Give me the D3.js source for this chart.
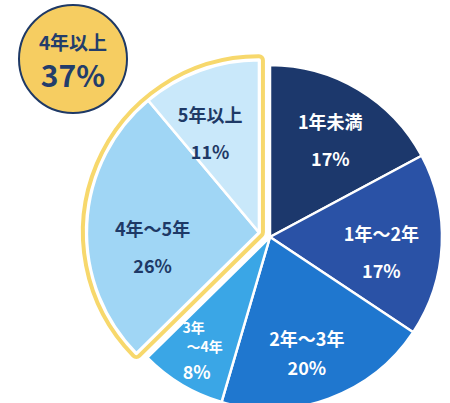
<!DOCTYPE html>
<html><head><meta charset="utf-8">
<script src="https://cdn.jsdelivr.net/npm/d3@7/dist/d3.min.js"></script>
<style>
html,body{margin:0;padding:0;background:#fff;}
svg{display:block;font-family:"Noto Sans CJK JP","Noto Sans",sans-serif;font-weight:700;}
</style></head>
<body>
<script>
// Data
const categories = ["1年未満", "1年～2年", "2年～3年", "3年～4年", "4年～5年", "5年以上"];
const values = [17, 17, 20, 8, 26, 11];
const labelLines = [["1年未満"], ["1年～2年"], ["2年～3年"], ["3年", "～4年"], ["4年～5年"], ["5年以上"]];
const highlightGroup = ["4年～5年", "5年以上"];
const badgeTitle = "4年以上";
const badgeValue = "37%";

// Styles / layout
const colors = ["#1c386c", "#2a52a6", "#1f77cf", "#3aa6e6", "#a0d6f5", "#c9e8fa"];
const textColors = ["#fff", "#fff", "#fff", "#fff", "#1e3966", "#1e3966"];
const labelNudge = [[2, 0], [-2, 9], [-2, 9], [-12, 14], [7, 20], [-10, 7]];

const W = 450, H = 403;
const cx = 270, cy = 237, R = 172;
const explode = 12;

const svg = d3.select("body").append("svg").attr("width", W).attr("height", H);

const pie = d3.pie().sort(null).value(d => d.v);
const data = categories.map((c, i) => ({c, v: values[i], i}));
const arcs = pie(data);
const arc = d3.arc().innerRadius(0).outerRadius(R);
const labelArc = d3.arc().innerRadius(R * 0.66).outerRadius(R * 0.66);

const grp = arcs.filter(a => highlightGroup.includes(a.data.c));
const gStart = d3.min(grp, a => a.startAngle), gEnd = d3.max(grp, a => a.endAngle);
const gMid = (gStart + gEnd) / 2;
const ox = Math.sin(gMid) * explode, oy = -Math.cos(gMid) * explode;

const g = svg.append("g").attr("transform", `translate(${cx},${cy})`);

// group outline (yellow frame)
const gg = g.append("g").attr("transform", `translate(${ox},${oy})`);
const groupPath = arc({startAngle: gStart, endAngle: gEnd});
gg.append("path").attr("d", groupPath).attr("fill", "none")
  .attr("stroke", "#f7d86c").attr("stroke-width", 12).attr("stroke-linejoin", "round");
gg.append("path").attr("d", groupPath).attr("fill", "#fff")
  .attr("stroke", "#fff").attr("stroke-width", 4).attr("stroke-linejoin", "round");

arcs.forEach((a, i) => {
  const inG = highlightGroup.includes(a.data.c);
  const parent = inG ? gg : g;
  parent.append("path").attr("d", arc(a)).attr("fill", colors[i])
    .attr("stroke", "#fff").attr("stroke-width", 2.5).attr("stroke-linejoin", "round");
});

arcs.forEach((a, i) => {
  const inG = highlightGroup.includes(a.data.c);
  const [x0, y0] = labelArc.centroid(a);
  const x = x0 + (inG ? ox : 0) + labelNudge[i][0];
  const y = y0 + (inG ? oy : 0) + labelNudge[i][1];
  const lines = labelLines[i];
  const small = lines.length > 1;
  const t = g.append("g").attr("fill", textColors[i]).attr("text-anchor", "middle");
  if (small) {
    t.append("text").attr("x", x - 6).attr("y", y - 21).attr("dominant-baseline", "central").attr("font-size", 14).text(lines[0]);
    t.append("text").attr("x", x + 5).attr("y", y - 2).attr("dominant-baseline", "central").attr("font-size", 14).text(lines[1]);
    t.append("text").attr("x", x - 3).attr("y", y + 23).attr("dominant-baseline", "central").attr("font-size", 18).text(values[i] + "%");
  } else {
    const gap = (i === 2) ? 29 : 37;
    t.append("text").attr("x", x).attr("y", y - gap / 2).attr("dominant-baseline", "central").attr("font-size", 18).text(lines[0]);
    t.append("text").attr("x", x).attr("y", y + gap / 2).attr("dominant-baseline", "central").attr("font-size", 18).text(values[i] + "%");
  }
});

// badge
const b = svg.append("g").attr("transform", "translate(73,59)");
b.append("circle").attr("r", 54).attr("fill", "#f6cd61").attr("stroke", "#1e3966").attr("stroke-width", 2);
b.append("text").attr("text-anchor", "middle").attr("dominant-baseline", "central")
  .attr("y", -18).attr("font-size", 19).attr("fill", "#233d6b").text(badgeTitle);
b.append("text").attr("text-anchor", "middle").attr("dominant-baseline", "central")
  .attr("y", 15).attr("font-size", 30).attr("fill", "#233d6b").text(badgeValue);
</script>
</body></html>
